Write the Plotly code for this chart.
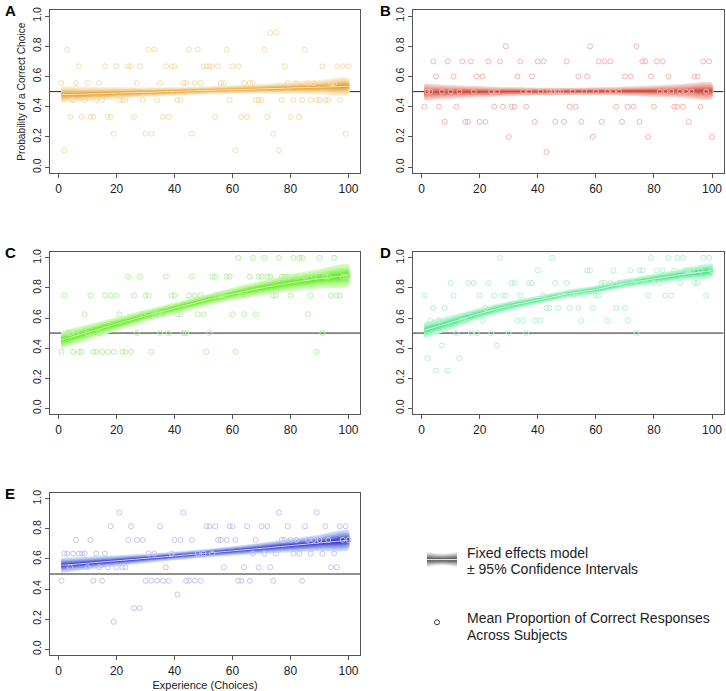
import plotly.graph_objects as go

W, H = 726, 691

# ---------------- data ----------------
choices = list(range(1, 101))

points_A = [0.556,0.111,0.778,0.333,0.444,0.556,0.667,0.333,0.444,0.556,
            0.333,0.333,0.444,0.556,0.444,0.667,0.333,0.333,0.222,0.667,
            0.444,0.444,0.444,0.667,0.667,0.333,0.556,0.667,0.444,0.222,
            0.778,0.222,0.778,0.444,0.556,0.333,0.667,0.333,0.667,0.667,
            0.444,0.444,0.556,0.556,0.778,0.222,0.556,0.778,0.556,0.667,
            0.667,0.667,0.667,0.333,0.667,0.556,0.556,0.778,0.444,0.667,
            0.111,0.667,0.333,0.556,0.333,0.556,0.556,0.444,0.444,0.444,
            0.778,0.333,0.889,0.222,0.889,0.111,0.444,0.667,0.556,0.333,
            0.444,0.556,0.333,0.444,0.778,0.556,0.444,0.556,0.444,0.444,
            0.667,0.444,0.444,0.556,0.556,0.667,0.444,0.667,0.222,0.667]

points_B = [0.4,0.5,0.5,0.7,0.6,0.4,0.5,0.3,0.7,0.5,
            0.6,0.4,0.5,0.7,0.3,0.3,0.7,0.5,0.6,0.3,
            0.6,0.3,0.7,0.5,0.4,0.5,0.7,0.4,0.8,0.2,
            0.4,0.4,0.6,0.7,0.5,0.4,0.5,0.6,0.3,0.7,
            0.5,0.7,0.1,0.5,0.5,0.3,0.5,0.5,0.3,0.7,
            0.4,0.5,0.4,0.6,0.3,0.5,0.6,0.8,0.2,0.5,
            0.7,0.3,0.7,0.5,0.7,0.5,0.4,0.5,0.3,0.6,
            0.4,0.6,0.4,0.8,0.3,0.7,0.7,0.2,0.6,0.4,
            0.7,0.5,0.7,0.5,0.6,0.5,0.4,0.4,0.5,0.4,
            0.5,0.3,0.5,0.6,0.6,0.4,0.7,0.5,0.7,0.2]

points_C = [0.375,0.75,0.5,0.5,0.375,0.5,0.375,0.375,0.625,0.5,
            0.75,0.375,0.375,0.5,0.375,0.75,0.375,0.75,0.375,0.75,
            0.625,0.375,0.375,0.875,0.375,0.75,0.5,0.875,0.625,0.75,
            0.75,0.375,0.625,0.625,0.5,0.625,0.875,0.5,0.75,0.75,
            0.625,0.625,0.5,0.5,0.75,0.875,0.75,0.625,0.75,0.625,
            0.375,0.5,0.875,0.875,0.75,0.75,0.75,0.875,0.875,0.625,
            0.375,1.0,0.75,0.625,0.75,0.875,1.0,0.625,0.875,0.875,
            1.0,0.875,0.875,0.75,0.75,1.0,0.875,0.875,0.875,0.75,
            1.0,0.875,1.0,1.0,0.875,0.625,0.75,0.875,0.375,1.0,
            0.5,0.875,0.875,0.75,1.0,0.75,0.75,0.875,0.875,0.875]

points_D = [0.75,0.333,0.583,0.667,0.25,0.583,0.417,0.667,0.25,0.833,
            0.75,0.5,0.333,0.583,0.583,0.833,0.5,0.833,0.5,0.75,
            0.583,0.667,0.833,0.5,0.75,0.417,1.0,0.75,0.75,0.5,
            0.833,0.833,0.583,0.75,0.583,0.5,0.833,0.833,0.583,0.917,
            0.583,0.75,0.667,0.667,1.0,0.833,0.667,0.75,0.75,0.833,
            0.667,0.75,0.75,0.667,0.583,0.75,0.917,0.917,0.667,0.75,
            0.75,0.833,0.833,0.583,0.833,0.917,0.667,0.833,0.833,0.667,
            0.583,0.917,0.833,0.5,0.917,0.917,0.833,0.75,1.0,0.833,
            0.917,0.833,0.917,0.75,1.0,0.75,0.917,1.0,0.833,1.0,
            0.917,0.917,0.917,0.833,0.833,0.917,1.0,0.75,1.0,0.917]

points_E = [0.455,0.636,0.636,0.545,0.636,0.727,0.636,0.636,0.636,0.545,
            0.727,0.455,0.636,0.545,0.455,0.636,0.545,0.818,0.182,0.545,
            0.909,0.545,0.545,0.727,0.818,0.273,0.727,0.273,0.727,0.455,
            0.636,0.455,0.636,0.455,0.818,0.455,0.545,0.455,0.636,0.727,
            0.364,0.727,0.909,0.455,0.455,0.727,0.455,0.636,0.455,0.636,
            0.818,0.818,0.636,0.818,0.727,0.727,0.545,0.727,0.818,0.818,
            0.727,0.455,0.455,0.545,0.818,0.455,0.636,0.727,0.545,0.818,
            0.636,0.818,0.545,0.455,0.636,0.909,0.727,0.727,0.818,0.727,
            0.636,0.727,0.636,0.455,0.818,0.727,0.636,0.727,0.909,0.727,
            0.636,0.818,0.727,0.545,0.636,0.545,0.818,0.727,0.818,0.727]

# fixed-effects model fit and 95% CI half-widths
fit_x = [1, 10, 20, 30, 40, 50, 60, 70, 80, 90, 100]
fit_A = [0.480,0.484,0.490,0.495,0.501,0.507,0.513,0.518,0.524,0.529,0.535]
ci_A  = [0.057,0.048,0.040,0.033,0.029,0.027,0.029,0.033,0.040,0.048,0.057]
fit_B = [0.497,0.498,0.499,0.500,0.500,0.501,0.502,0.503,0.503,0.504,0.505]
ci_B  = [0.057,0.046,0.037,0.030,0.026,0.025,0.026,0.030,0.037,0.046,0.055]
fit_C = [0.453,0.505,0.560,0.615,0.665,0.715,0.760,0.800,0.835,0.862,0.885]
ci_C  = [0.060,0.052,0.045,0.040,0.038,0.038,0.042,0.048,0.056,0.065,0.073]
fit_D = [0.519,0.570,0.630,0.680,0.720,0.760,0.790,0.830,0.860,0.890,0.916]
ci_D  = [0.055,0.046,0.038,0.032,0.028,0.027,0.027,0.029,0.033,0.039,0.045]
fit_E = [0.558,0.572,0.588,0.604,0.620,0.637,0.654,0.671,0.689,0.707,0.725]
ci_E  = [0.050,0.043,0.036,0.031,0.028,0.028,0.031,0.037,0.045,0.055,0.066]

x_ticks = [0, 20, 40, 60, 80, 100]
y_ticks = [0.0, 0.2, 0.4, 0.6, 0.8, 1.0]
y_tick_text = ["0.0", "0.2", "0.4", "0.6", "0.8", "1.0"]
chance_level = 0.5

# ---------------- styling ----------------
panels = [
    dict(name="A", pts=points_A, fit=fit_A, ci=ci_A,
         outer=(252, 240, 215), inner=(228, 160, 50), line="rgb(250,232,185)",
         pt="rgb(246,220,172)", xd=(50, 360), yd=(7, 171)),
    dict(name="B", pts=points_B, fit=fit_B, ci=ci_B,
         outer=(249, 215, 210), inner=(210, 85, 72), line="rgb(205,75,65)",
         pt="rgb(244,180,178)", xd=(413, 723.5), yd=(7, 171)),
    dict(name="C", pts=points_C, fit=fit_C, ci=ci_C,
         outer=(215, 252, 195), inner=(95, 235, 25), line="rgb(225,255,205)",
         pt="rgb(178,242,160)", xd=(50, 360), yd=(250, 413)),
    dict(name="D", pts=points_D, fit=fit_D, ci=ci_D,
         outer=(205, 250, 226), inner=(70, 228, 130), line="rgb(225,255,235)",
         pt="rgb(178,242,208)", xd=(413, 723.5), yd=(250, 413)),
    dict(name="E", pts=points_E, fit=fit_E, ci=ci_E,
         outer=(205, 226, 250), inner=(55, 55, 205), line="rgb(215,215,255)",
         pt="rgb(196,196,242)", xd=(50, 360), yd=(492, 655)),
]

N_LAYERS = 9
fig = go.Figure()
layout = dict(width=W, height=H, margin=dict(l=0, r=0, t=0, b=0),
              paper_bgcolor="white", plot_bgcolor="white", showlegend=False,
              font=dict(family="Liberation Sans, Arial, sans-serif", color="#222"))
shapes = []
annotations = []

AX_COL = "#555555"

for i, p in enumerate(panels):
    k = "" if i == 0 else str(i + 1)
    xa, ya = "x" + k, "y" + k
    # CI band layers (wide/pale -> narrow/saturated)
    for j in range(N_LAYERS):
        f = 1.0 - j / N_LAYERS
        t = (j / (N_LAYERS - 1)) ** 1.3
        c = tuple(int(round(p["outer"][m] + (p["inner"][m] - p["outer"][m]) * t)) for m in range(3))
        up = [v + f * h for v, h in zip(p["fit"], p["ci"])]
        lo = [v - f * h for v, h in zip(p["fit"], p["ci"])]
        fig.add_trace(go.Scatter(
            x=fit_x + fit_x[::-1], y=up + lo[::-1], xaxis=xa, yaxis=ya,
            mode="lines", fill="toself", fillcolor="rgb(%d,%d,%d)" % c,
            line=dict(width=0, shape="spline", smoothing=0.6), hoverinfo="skip"))
    # fit line
    fig.add_trace(go.Scatter(x=fit_x, y=p["fit"], xaxis=xa, yaxis=ya, mode="lines",
                             line=dict(color=p["line"], width=1, shape="spline", smoothing=0.6)))
    # observed means
    fig.add_trace(go.Scatter(x=choices, y=p["pts"], xaxis=xa, yaxis=ya, mode="markers",
                             marker=dict(symbol="circle-open", size=5,
                                         line=dict(width=1, color=p["pt"]), color=p["pt"])))
    # chance line
    shapes.append(dict(type="line", xref=xa + " domain", yref=ya, x0=0, x1=1,
                       y0=chance_level, y1=chance_level, layer="below",
                       line=dict(color="#222222", width=1)))
    xd = [p["xd"][0] / W, p["xd"][1] / W]
    yd = [1 - p["yd"][1] / H, 1 - p["yd"][0] / H]
    layout["xaxis" + k] = dict(domain=xd, range=[-2.96, 103.96], anchor=ya,
                               tickvals=x_ticks, ticks="outside", ticklen=4, tickcolor=AX_COL,
                               showline=True, mirror=True, linecolor=AX_COL, linewidth=1,
                               showgrid=False, zeroline=False,
                               tickfont=dict(size=12, color="#222"))
    layout["yaxis" + k] = dict(domain=yd, range=[-0.04, 1.04], anchor=xa,
                               tickvals=y_ticks, ticktext=y_tick_text, ticks="outside",
                               ticklen=4, tickcolor=AX_COL, tickangle=-90,
                               showline=True, mirror=True, linecolor=AX_COL, linewidth=1,
                               showgrid=False, zeroline=False,
                               tickfont=dict(size=10.5, color="#222"))
    # panel letter
    lx = 3 if p["xd"][0] < 100 else 378
    annotations.append(dict(text="<b>%s</b>" % p["name"], xref="paper", yref="paper",
                            x=lx / W, y=1 - (p["yd"][0] + 1) / H, xanchor="left", yanchor="middle",
                            showarrow=False, font=dict(size=15, color="black")))

layout["yaxis"]["title"] = dict(text="Probability of a Correct Choice", font=dict(size=10.2), standoff=3)
layout["xaxis5"]["title"] = dict(text="Experience (Choices)", font=dict(size=11), standoff=4)

# ---------------- legend (drawn) ----------------
def px(x): return x / W
def py(y): return 1 - y / H

x0, x1, xm, yc = 427, 457, 442, 559
grays = [232, 205, 175, 145, 115, 95]
for g_i, g in enumerate(grays):
    s = 1 - g_i / len(grays)
    h0, hm = 7.5 * s, 4.0 * s
    path = ("M %f,%f Q %f,%f %f,%f L %f,%f Q %f,%f %f,%f Z" %
            (px(x0), py(yc - h0), px(xm), py(yc - hm), px(x1), py(yc - h0),
             px(x1), py(yc + h0), px(xm), py(yc + hm), px(x0), py(yc + h0)))
    shapes.append(dict(type="path", xref="paper", yref="paper", path=path,
                       fillcolor="rgb(%d,%d,%d)" % (g, g, g), line=dict(width=0)))
shapes.append(dict(type="line", xref="paper", yref="paper", x0=px(x0), x1=px(x1),
                   y0=py(yc), y1=py(yc), line=dict(color="rgb(235,235,235)", width=1)))
shapes.append(dict(type="circle", xref="paper", yref="paper",
                   x0=px(434.5), x1=px(439.5), y0=py(624.5), y1=py(619.5),
                   line=dict(color="#333", width=1)))

leg_font = dict(size=14, color="#222")
for txt, yy in [("Fixed effects model", 552), ("± 95% Confidence Intervals", 568),
                ("Mean Proportion of Correct Responses", 618), ("Across Subjects", 635)]:
    annotations.append(dict(text=txt, xref="paper", yref="paper", x=px(465), y=py(yy),
                            xanchor="left", yanchor="middle", showarrow=False, font=leg_font))

layout["shapes"] = shapes
layout["annotations"] = annotations
fig.update_layout(**layout)
fig.write_html("out.html", config={"displayModeBar": False},
               post_script="document.body.style.margin='0';document.body.style.overflow='hidden';")
